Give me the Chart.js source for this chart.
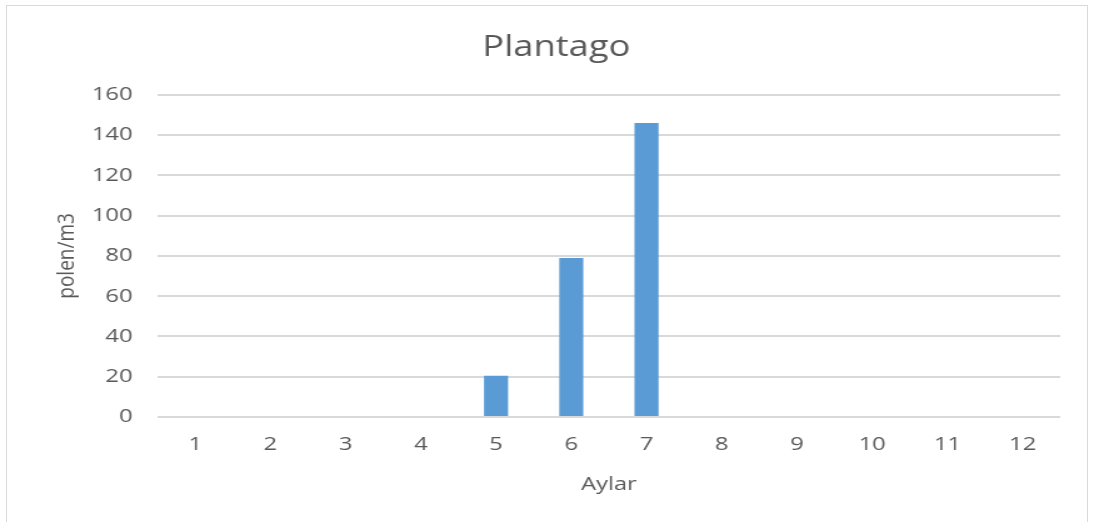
<!DOCTYPE html>
<html>
<head>
<meta charset="utf-8">
<script src="https://cdn.jsdelivr.net/npm/chart.js@4"></script>
<style>
  html, body { margin: 0; padding: 0; background: #ffffff; overflow: hidden; }
  #frame {
    position: absolute; left: 6px; top: 5px; width: 1082px; height: 540px;
    border: 1px solid #d9d9d9; box-sizing: border-box;
  }
  /* chart is drawn on a narrower canvas and widened to the page width */
  #wrap {
    position: absolute; left: 0; top: 0; width: 875px; height: 522px;
    transform: scaleX(1.2503); transform-origin: 0 0;
  }
</style>
</head>
<body>
<div id="frame"></div>
<div id="wrap"><canvas id="chart" width="875" height="522"></canvas></div>
<script>
// Monthly Plantago pollen counts
const months = ['1', '2', '3', '4', '5', '6', '7', '8', '9', '10', '11', '12'];
const pollen = [0, 0, 0, 0, 20.5, 79, 146, 0, 0, 0, 0, 0];
const yTicks = [0, 20, 40, 60, 80, 100, 120, 140, 160];

const chartTitle = 'Plantago';
const xTitle = 'Aylar';
const yTitle = 'polen/m3';

const textGrey = '#595959';
const gridGrey = '#d9d9d9';
const barBlue = '#5b9bd5';
const fontFamily = "'Open Sans', 'DejaVu Sans', sans-serif";

new Chart(document.getElementById('chart'), {
  type: 'bar',
  data: {
    labels: months,
    datasets: [{
      data: pollen,
      backgroundColor: barBlue,
      borderWidth: 0,
      categoryPercentage: 1.0,
      barPercentage: 0.32
    }]
  },
  options: {
    responsive: false,
    animation: false,
    devicePixelRatio: 1,
    layout: { padding: { left: 42, right: 27, top: 30, bottom: 26 } },
    plugins: {
      legend: { display: false },
      tooltip: { enabled: false },
      title: {
        display: true,
        text: chartTitle,
        color: textGrey,
        font: { family: fontFamily, size: 29, weight: 'normal' },
        padding: { top: 0, bottom: 30 }
      }
    },
    scales: {
      x: {
        grid: { display: false, drawTicks: false },
        border: { display: false },
        ticks: {
          color: textGrey,
          font: { family: fontFamily, size: 19 },
          padding: 16,
          maxRotation: 0
        },
        title: {
          display: true,
          text: xTitle,
          color: textGrey,
          font: { family: fontFamily, size: 19 },
          padding: { top: 15, bottom: 0 }
        },
        afterFit: (axis) => { axis.height = 79; }
      },
      y: {
        min: 0,
        max: 160,
        afterBuildTicks: (axis) => { axis.ticks = yTicks.map(v => ({ value: v })); },
        grid: { color: gridGrey, lineWidth: 2, drawTicks: false },
        border: { display: false },
        ticks: {
          color: textGrey,
          font: { family: fontFamily, size: 19 },
          padding: 20
        },
        title: {
          display: true,
          text: yTitle,
          color: textGrey,
          font: { family: fontFamily, size: 19 },
          padding: { top: 0, bottom: 0 }
        },
        afterFit: (axis) => { axis.width = 84; }
      }
    }
  }
});
</script>
</body>
</html>
